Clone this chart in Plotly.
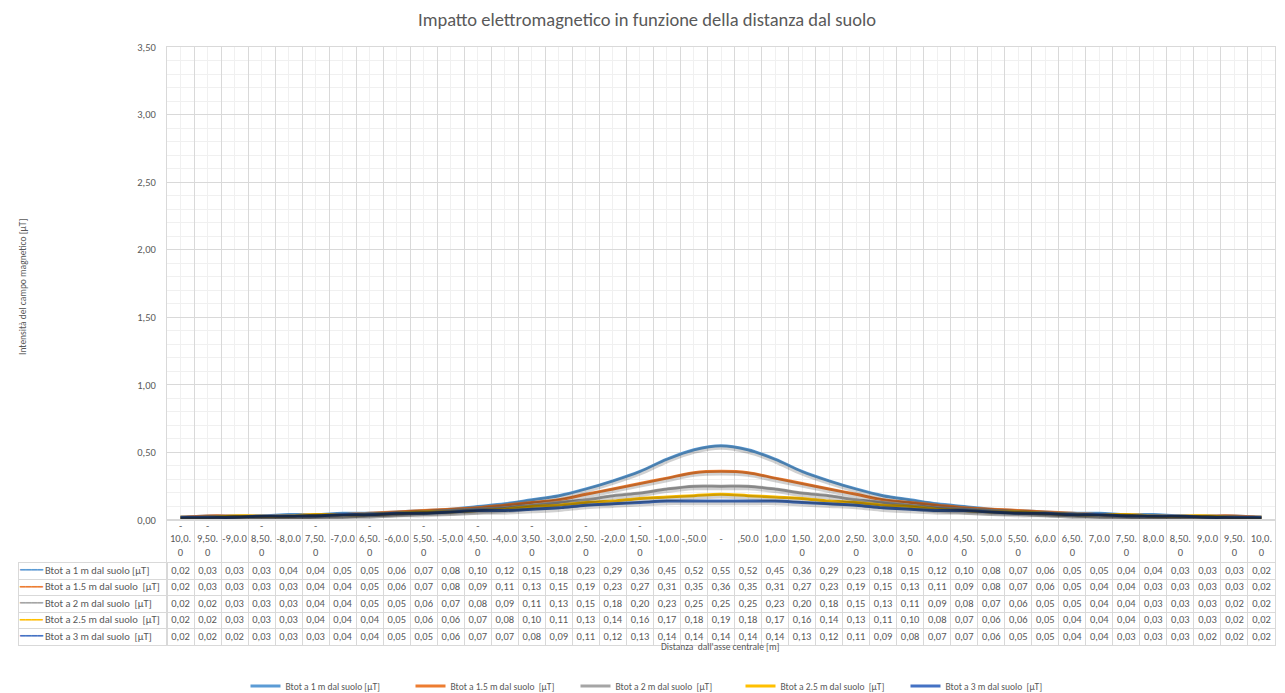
import plotly.graph_objects as go

# ---------------- data ----------------
distances = [-10.0, -9.5, -9.0, -8.5, -8.0, -7.5, -7.0, -6.5, -6.0, -5.5, -5.0,
             -4.5, -4.0, -3.5, -3.0, -2.5, -2.0, -1.5, -1.0, -0.5, 0.0,
             0.5, 1.0, 1.5, 2.0, 2.5, 3.0, 3.5, 4.0, 4.5, 5.0,
             5.5, 6.0, 6.5, 7.0, 7.5, 8.0, 8.5, 9.0, 9.5, 10.0]

tick_labels = [
    "-<br>10,0.<br>0", "-<br>9,50.<br>0", " <br>-9,0.0<br> ", "-<br>8,50.<br>0", " <br>-8,0.0<br> ",
    "-<br>7,50.<br>0", " <br>-7,0.0<br> ", "-<br>6,50.<br>0", " <br>-6,0.0<br> ", "-<br>5,50.<br>0",
    " <br>-5,0.0<br> ", "-<br>4,50.<br>0", " <br>-4,0.0<br> ", "-<br>3,50.<br>0", " <br>-3,0.0<br> ",
    "-<br>2,50.<br>0", " <br>-2,0.0<br> ", "-<br>1,50.<br>0", " <br>-1,0.0<br> ", " <br>-,50.0<br> ",
    " <br>-<br> ",
    " <br>,50.0<br> ", " <br>1,0.0<br> ", " <br>1,50.<br>0", " <br>2,0.0<br> ", " <br>2,50.<br>0",
    " <br>3,0.0<br> ", " <br>3,50.<br>0", " <br>4,0.0<br> ", " <br>4,50.<br>0", " <br>5,0.0<br> ",
    " <br>5,50.<br>0", " <br>6,0.0<br> ", " <br>6,50.<br>0", " <br>7,0.0<br> ", " <br>7,50.<br>0",
    " <br>8,0.0<br> ", " <br>8,50.<br>0", " <br>9,0.0<br> ", " <br>9,50.<br>0", " <br>10,0.<br>0",
]

series_names = [
    "Btot a 1 m dal suolo [µT]",
    "Btot a 1.5 m dal suolo  [µT]",
    "Btot a 2 m dal suolo  [µT]",
    "Btot a 2.5 m dal suolo  [µT]",
    "Btot a 3 m dal suolo  [µT]",
]

b_1m = [0.02, 0.03, 0.03, 0.03, 0.04, 0.04, 0.05, 0.05, 0.06, 0.07, 0.08,
        0.10, 0.12, 0.15, 0.18, 0.23, 0.29, 0.36, 0.45, 0.52, 0.55,
        0.52, 0.45, 0.36, 0.29, 0.23, 0.18, 0.15, 0.12, 0.10, 0.08,
        0.07, 0.06, 0.05, 0.05, 0.04, 0.04, 0.03, 0.03, 0.03, 0.02]
b_15m = [0.02, 0.03, 0.03, 0.03, 0.03, 0.04, 0.04, 0.05, 0.06, 0.07, 0.08,
         0.09, 0.11, 0.13, 0.15, 0.19, 0.23, 0.27, 0.31, 0.35, 0.36,
         0.35, 0.31, 0.27, 0.23, 0.19, 0.15, 0.13, 0.11, 0.09, 0.08,
         0.07, 0.06, 0.05, 0.04, 0.04, 0.03, 0.03, 0.03, 0.03, 0.02]
b_2m = [0.02, 0.02, 0.03, 0.03, 0.03, 0.04, 0.04, 0.05, 0.05, 0.06, 0.07,
        0.08, 0.09, 0.11, 0.13, 0.15, 0.18, 0.20, 0.23, 0.25, 0.25,
        0.25, 0.23, 0.20, 0.18, 0.15, 0.13, 0.11, 0.09, 0.08, 0.07,
        0.06, 0.05, 0.05, 0.04, 0.04, 0.03, 0.03, 0.03, 0.02, 0.02]
b_25m = [0.02, 0.02, 0.03, 0.03, 0.03, 0.04, 0.04, 0.04, 0.05, 0.06, 0.06,
         0.07, 0.08, 0.10, 0.11, 0.13, 0.14, 0.16, 0.17, 0.18, 0.19,
         0.18, 0.17, 0.16, 0.14, 0.13, 0.11, 0.10, 0.08, 0.07, 0.06,
         0.06, 0.05, 0.04, 0.04, 0.04, 0.03, 0.03, 0.03, 0.02, 0.02]
b_3m = [0.02, 0.02, 0.02, 0.03, 0.03, 0.03, 0.04, 0.04, 0.05, 0.05, 0.06,
        0.07, 0.07, 0.08, 0.09, 0.11, 0.12, 0.13, 0.14, 0.14, 0.14,
        0.14, 0.14, 0.13, 0.12, 0.11, 0.09, 0.08, 0.07, 0.07, 0.06,
        0.05, 0.05, 0.04, 0.04, 0.03, 0.03, 0.03, 0.02, 0.02, 0.02]

series_values = [b_1m, b_15m, b_2m, b_25m, b_3m]
colors = ["#5B9BD5", "#ED7D31", "#A5A5A5", "#FFC000", "#4472C4"]

# ---------------- layout geometry (pixels) ----------------
W, H = 1285, 693
PL, PR, PT, PB = 167, 1275, 47, 520      # plot area
TL = 19                                   # table left edge
ROW_H = 16.5
HDR_H = 42.75
ROWS_TOP = PB + HDR_H
TB = ROWS_TOP + ROW_H * len(series_names)  # table bottom
FONT = "Calibri, Carlito, 'Liberation Sans Narrow', 'Liberation Sans', Arial, sans-serif"
TXT = "#595959"
GRID = "#D9D9D9"
MINOR = "#F0F0F0"

nrows = len(series_names)
row_idx = list(range(nrows))
hdr_top = -0.5 - HDR_H / ROW_H
hdr_text_y = -0.5 - (HDR_H / 2 + 1.5) / ROW_H
col_bounds = [distances[0] - 0.25] + [d + 0.25 for d in distances]
row_bounds = [hdr_top] + [r - 0.5 for r in row_idx] + [nrows - 0.5]


def fmt(v):
    return f"{v:.2f}".replace(".", ",")


fig = go.Figure()

# soft shadows (drawn on a slightly shifted copy of the y scale)
for vals in series_values:
    fig.add_trace(go.Scatter(
        x=distances, y=vals, mode="lines", xaxis="x", yaxis="y2",
        line=dict(color="rgba(0,0,0,0.18)", width=5, shape="spline", smoothing=1),
        showlegend=False, hoverinfo="skip"))

for name, vals, c in zip(series_names, series_values, colors):
    fig.add_trace(go.Scatter(
        x=distances, y=vals, mode="lines", name=name,
        line=dict(color=c, width=3, shape="spline", smoothing=1)))

# ---- data table: header (category labels) ----
fig.add_trace(go.Scatter(
    x=distances, y=[hdr_text_y] * len(distances), text=tick_labels, mode="text",
    textposition="middle center", xaxis="x2", yaxis="y3",
    textfont=dict(family=FONT, size=10.5, color=TXT),
    showlegend=False, hoverinfo="skip"))

# ---- data table: values ----
for i, vals in enumerate(series_values):
    fig.add_trace(go.Scatter(
        x=distances, y=[i] * len(distances), text=[fmt(v) for v in vals], mode="text",
        textposition="middle center", xaxis="x2", yaxis="y3",
        textfont=dict(family=FONT, size=10.5, color=TXT),
        showlegend=False, hoverinfo="skip"))

# ---- data table: first column (series keys + names) ----
fig.add_trace(go.Scatter(
    x=[1 / (PL - TL)] * nrows, y=row_idx, text=["━━━━"] * nrows, mode="text",
    textposition="middle right", xaxis="x3", yaxis="y4",
    textfont=dict(family="DejaVu Sans", size=9.5, color=colors),
    showlegend=False, hoverinfo="skip"))
fig.add_trace(go.Scatter(
    x=[26 / (PL - TL)] * nrows, y=row_idx, text=series_names, mode="text",
    textposition="middle right", xaxis="x3", yaxis="y4",
    textfont=dict(family=FONT, size=10.5, color=TXT),
    showlegend=False, hoverinfo="skip"))

noax = dict(showticklabels=False, ticks="", zeroline=False, automargin=False,
            showline=True, mirror=True, linecolor=GRID, linewidth=1)

fig.update_layout(
    width=W, height=H,
    margin=dict(l=0, r=0, t=0, b=0, autoexpand=False),
    paper_bgcolor="white", plot_bgcolor="white",
    separators=",.",
    font=dict(family=FONT, color=TXT, size=10),
    title=dict(text="Impatto elettromagnetico in funzione della distanza dal suolo",
               x=647 / W, xanchor="center", y=1 - 20 / H, yanchor="middle", automargin=False,
               font=dict(family=FONT, size=18.5, color=TXT)),
    # main chart
    xaxis=dict(domain=[PL / W, PR / W], range=[col_bounds[0], col_bounds[-1]], anchor="y",
               tick0=col_bounds[0], dtick=0.5, showgrid=True, gridcolor=GRID, gridwidth=1,
               minor=dict(tick0=distances[0], dtick=0.5, showgrid=True, gridcolor=MINOR, gridwidth=1),
               **noax),
    yaxis=dict(domain=[(H - PB) / H, (H - PT) / H], range=[0, 3.5], anchor="x",
               tick0=0, dtick=0.5, tickformat=".2f", ticks="", automargin=False,
               showgrid=True, gridcolor=GRID, gridwidth=1, zeroline=False,
               minor=dict(dtick=0.1, showgrid=True, gridcolor=MINOR, gridwidth=1),
               tickfont=dict(family=FONT, size=10.5, color=TXT),
               ticklabelstandoff=8, showline=True, mirror=True, linecolor=GRID, linewidth=1),
    yaxis2=dict(domain=[(H - PB) / H, (H - PT) / H], range=[0.012, 3.512],
                overlaying="y", visible=False, automargin=False),
    # table: header + value cells
    xaxis2=dict(domain=[PL / W, PR / W], range=[col_bounds[0], col_bounds[-1]], anchor="y3",
                tickvals=col_bounds, showgrid=True, gridcolor=GRID, gridwidth=1, **noax),
    yaxis3=dict(domain=[(H - TB) / H, (H - PB) / H], range=[nrows - 0.5, hdr_top], anchor="x2",
                tickvals=row_bounds, showgrid=True, gridcolor=GRID, gridwidth=1, **noax),
    # table: first column
    xaxis3=dict(domain=[TL / W, PL / W], range=[0, 1], anchor="y4", showgrid=False, **noax),
    yaxis4=dict(domain=[(H - TB) / H, (H - ROWS_TOP) / H], range=[nrows - 0.5, -0.5], anchor="x3",
                tickvals=row_bounds[1:], showgrid=True, gridcolor=GRID, gridwidth=1, **noax),
    legend=dict(orientation="h", x=658 / W, xanchor="center",
                yref="container", y=1 - 686 / H, yanchor="middle",
                font=dict(family=FONT, size=9.5, color=TXT), entrywidth=120, itemwidth=30,
                bgcolor="rgba(0,0,0,0)"),
    annotations=[
        dict(text="Intensità del campo magnetico [µT]", x=15 / W, y=1 - 287 / H,
             xref="paper", yref="paper", showarrow=False, textangle=-90,
             font=dict(family=FONT, size=9.5, color=TXT)),
        dict(text="Distanza  dall'asse centrale [m]", x=720 / W, y=1 - 655 / H,
             xref="paper", yref="paper", showarrow=False,
             font=dict(family=FONT, size=9.5, color=TXT)),
    ],
    showlegend=True,
)

fig.write_html("out.html", config={"displayModeBar": False},
               post_script="document.body.style.margin='0px';document.body.style.overflow='hidden';")
